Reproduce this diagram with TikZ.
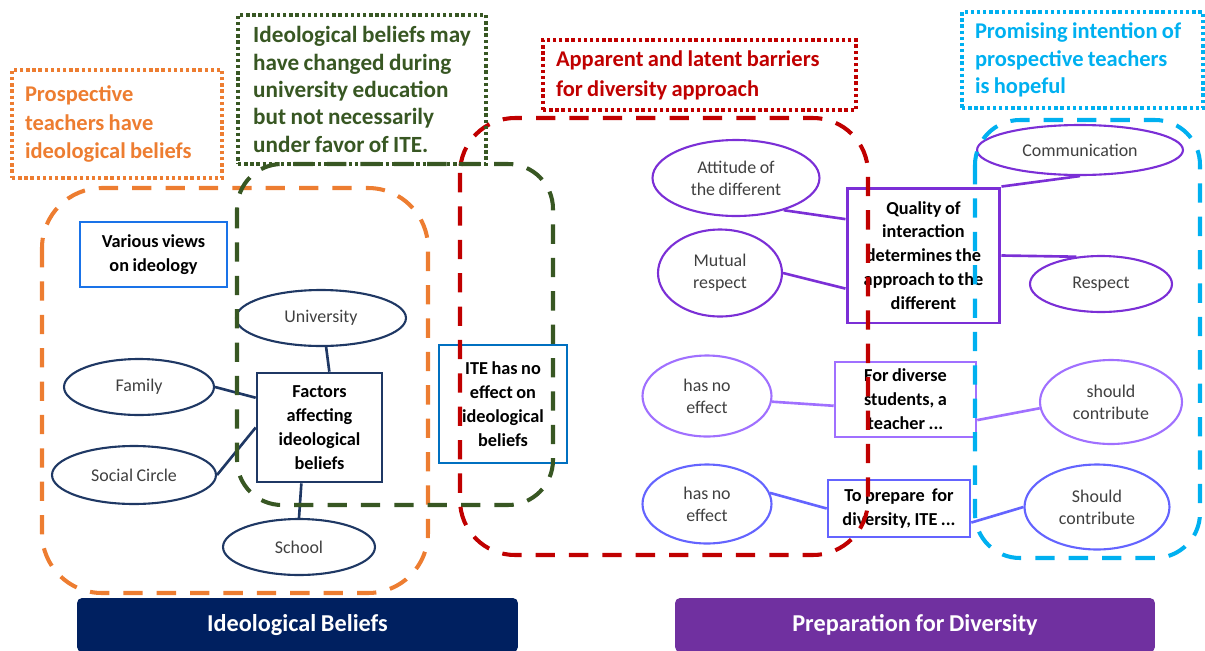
\documentclass[tikz,border=0pt]{standalone}
\usepackage{fontspec}
\setmainfont{Carlito}[WordSpace=0.85]
\usepackage{xcolor}
\usetikzlibrary{shapes.geometric}
\definecolor{ideo-navy}{HTML}{002060}
\definecolor{ideo-line}{HTML}{1F3864}
\definecolor{ideo-blue}{HTML}{0070C0}
\definecolor{view-blue}{HTML}{1A73E8}
\definecolor{warm-orange}{HTML}{ED7D31}
\definecolor{deep-green}{HTML}{385723}
\definecolor{barrier-red}{HTML}{C00000}
\definecolor{hope-cyan}{HTML}{00B0F0}
\definecolor{div-purple}{HTML}{7030A0}
\definecolor{violet}{HTML}{7B2FD6}
\definecolor{lilac}{HTML}{A070FF}
\definecolor{periwinkle}{HTML}{6464FF}

\begin{document}
\begin{tikzpicture}[x=0.02cm, y=-0.02cm,
          every node/.style={font=\fontsize{10.2}{12.5}\selectfont, align=center},
          oval/.style={draw=#1, ellipse, line width=1.2pt, inner sep=0pt,
                       text=black!75},
          factbox/.style={draw=#1, rectangle, line width=1.5pt, inner sep=1pt,
                          font=\bfseries\fontsize{10.4}{13.6}\selectfont},
          callout/.style={draw=#1, text=#1, line width=1.9pt,
                          dash pattern=on 1.9pt off 1.6pt, align=flush left,
                          inner xsep=0.26cm, font=\bfseries\fontsize{12.8}{15.6}\selectfont},
          region/.style={draw=#1, line width=2.3pt, dash pattern=on 11pt off 8pt},
          banner/.style={fill=#1, text=white, rounded corners=0.1cm,
                         minimum height=1.08cm, font=\bfseries\fontsize{13.8}{16}\selectfont},
          link/.style={draw=#1, line width=1.5pt}]
        % Page frame: 1205 x 650 units, y runs downwards.
        \useasboundingbox (0,0) rectangle (1205,650);

        % Left half: ideological beliefs.
        \node[factbox=view-blue, minimum width=2.94cm, minimum height=1.3cm]
          (views) at (153.5,254.5) {Various views\\on ideology};
        \node[factbox=ideo-line, minimum width=2.5cm, minimum height=2.18cm]
          (factors) at (319.5,427.5) {Factors\\affecting\\ideological\\beliefs};
        \node[factbox=ideo-blue, minimum width=2.56cm, minimum height=2.36cm]
          (noeffect) at (503,404) {ITE has no\\effect on\\ideological\\beliefs};
        \node[oval=ideo-line, minimum width=3.4cm, minimum height=1.12cm]
          (univ) at (321,318) {University};
        \node[oval=ideo-line, minimum width=3.0cm, minimum height=1.12cm]
          (family) at (139,387) {Family};
        \node[oval=ideo-line, minimum width=3.28cm, minimum height=1.16cm]
          (social) at (134,475) {Social Circle};
        \node[oval=ideo-line, minimum width=3.04cm, minimum height=1.12cm]
          (school) at (299,547) {School};
        \draw[link=ideo-line] (univ.-80) -- (factors.80);
        \draw[link=ideo-line] (family.east) -- (factors.155);
        \draw[link=ideo-line] (social.east) -- (factors.west);
        \draw[link=ideo-line] (factors.-108) -- (school.north);

        % Right half: preparation for diversity, three rows.
        \node[factbox=violet, minimum width=3.06cm, minimum height=2.7cm, line width=1.7pt]
          (quality) at (923.5,255.5) {Quality of\\interaction\\determines the\\approach to the\\different};
        \node[oval=violet, minimum width=3.34cm, minimum height=1.52cm]
          (attitude) at (736,178) {Attitude of\\the different};
        \node[oval=violet, minimum width=2.48cm, minimum height=1.74cm]
          (mutual) at (720,273) {Mutual\\respect};
        \node[oval=violet, minimum width=4.12cm, minimum height=1.0cm]
          (comm) at (1080,150) {Communication};
        \node[oval=violet, minimum width=2.84cm, minimum height=1.12cm]
          (respect) at (1101,284) {Respect};
        \draw[link=violet] (attitude.-34) -- (quality.155);
        \draw[link=violet] (mutual.east) -- (quality.-157);
        \draw[link=violet] (quality.north east) -- (comm.south);
        \draw[link=violet] (quality.east) -- (respect.132);

        \node[factbox=lilac, minimum width=2.82cm, minimum height=1.5cm]
          (fordiv) at (905.5,399.5) {For diverse\\students, a\\teacher ...};
        \node[oval=lilac, minimum width=2.58cm, minimum height=1.62cm]
          (hasno1) at (707,396) {has no\\effect};
        \node[oval=lilac, minimum width=2.84cm, minimum height=1.68cm]
          (should1) at (1111,402) {should\\contribute};
        \draw[link=lilac] (hasno1.-5) -- (fordiv.185);
        \draw[link=lilac] (fordiv.-16) -- (should1.185);

        \node[factbox=periwinkle, minimum width=2.84cm, minimum height=1.14cm]
          (toprep) at (899,508.5) {To prepare\ \ for\\diversity, ITE ...};
        \node[oval=periwinkle, minimum width=2.58cm, minimum height=1.58cm]
          (hasno2) at (707,504) {has no\\effect};
        \node[oval=periwinkle, minimum width=2.9cm, minimum height=1.7cm]
          (should2) at (1097,507) {Should\\contribute};
        \draw[link=periwinkle] (hasno2.10) -- (toprep.west);
        \draw[link=periwinkle] (toprep.-11) -- (should2.west);

        % Dashed groupings, drawn over the boxes.
        \foreach \col/\lx/\ty/\rx/\by/\rad in {warm-orange/42/188/428/593/1.2,
            deep-green/237/164/553/505/0.9, barrier-red/460/118/868/555/1.1,
            hope-cyan/975/120/1200/558/0.9} {
          \draw[region=\col, rounded corners=\rad cm] (\lx,\ty) rectangle (\rx,\by);
        }

        % Dotted call-outs.
        \node[callout=warm-orange, text width=3.68cm, minimum height=2.16cm,
              font=\bfseries\fontsize{12.8}{16.5}\selectfont]
          (prosp) at (117,124) {Prospective\\teachers have\\ideological beliefs};
        \node[callout=deep-green, minimum width=4.96cm, minimum height=2.98cm,
              inner xsep=0.2cm, font=\bfseries\fontsize{13.2}{15.6}\selectfont]
          (changed) at (362,89.5) {Ideological beliefs may\\have changed during\\university education\\but not necessarily\\under favor of ITE.};
        \node[callout=barrier-red, text width=5.74cm, minimum height=1.4cm,
              font=\bfseries\fontsize{12.8}{17}\selectfont]
          (barriers) at (699.5,75) {Apparent and latent barriers\\for diversity approach};
        \node[callout=hope-cyan, text width=4.3cm, minimum height=1.92cm]
          (hopeful) at (1082.5,60) {Promising intention of\\prospective teachers\\is hopeful};

        % Banners along the bottom edge.
        \node[banner=ideo-navy, minimum width=8.82cm] (ideobar) at (297.5,625) {Ideological Beliefs};
        \node[banner=div-purple, minimum width=9.6cm] (divbar) at (915,625) {Preparation for Diversity};
      \end{tikzpicture}
\end{document}
